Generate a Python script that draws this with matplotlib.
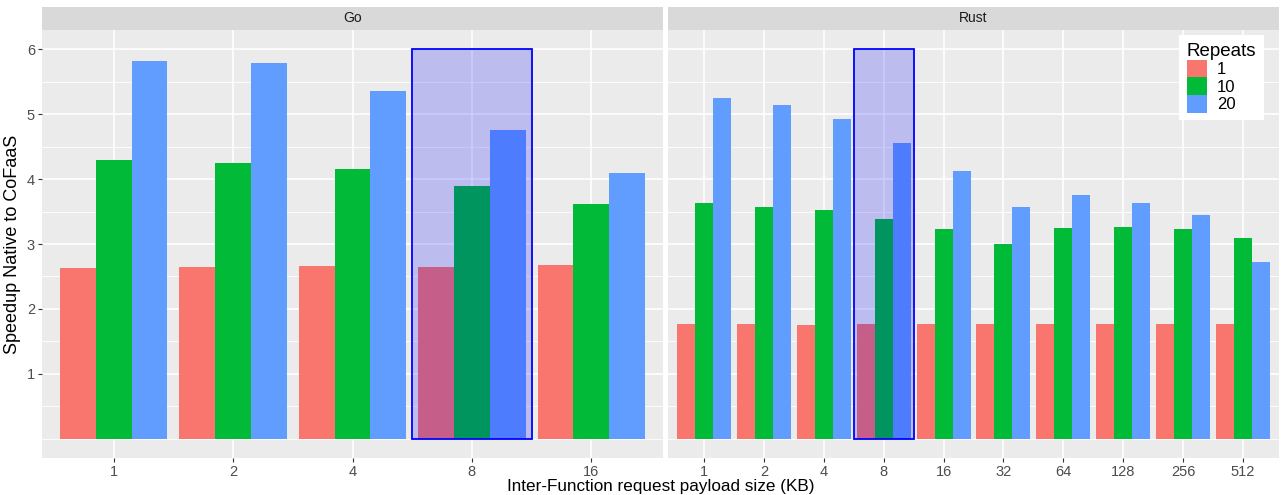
import numpy as np
import matplotlib.pyplot as plt
from matplotlib.patches import Patch, Rectangle

plt.rcParams['font.family'] = ['Liberation Sans', 'DejaVu Sans']

go_sizes = ['1', '2', '4', '8', '16']
go_r1 = [2.63, 2.64, 2.66, 2.64, 2.67]
go_r10 = [4.29, 4.25, 4.16, 3.90, 3.61]
go_r20 = [5.82, 5.79, 5.36, 4.76, 4.10]

rust_sizes = ['1', '2', '4', '8', '16', '32', '64', '128', '256', '512']
rust_r1 = [1.76, 1.77, 1.75, 1.77, 1.77, 1.77, 1.76, 1.76, 1.76, 1.77]
rust_r10 = [3.63, 3.57, 3.52, 3.38, 3.23, 3.00, 3.25, 3.26, 3.23, 3.09]
rust_r20 = [5.25, 5.14, 4.92, 4.56, 4.12, 3.57, 3.76, 3.63, 3.45, 2.72]

repeats = ['1', '10', '20']
colors = ['#F8766D', '#00BA38', '#619CFF']
highlight = '8'

W, H = 1284, 495
fig = plt.figure(figsize=(W / 100, H / 100), dpi=100)
fig.patch.set_facecolor('white')


def px_axes(x0, y0, x1, y1):
    return fig.add_axes([x0 / W, 1 - y1 / H, (x1 - x0) / W, (y1 - y0) / H])


def draw_panel(ax, strip, sizes, series, name):
    n = len(sizes)
    pos = np.arange(1, n + 1)
    ax.set_facecolor('#EBEBEB')
    for y in np.arange(0, 6.01, 0.5):
        if y % 1 == 0 and y > 0:
            continue
        ax.axhline(y, color='white', lw=0.6, zorder=0)
    for y in range(1, 7):
        ax.axhline(y, color='white', lw=1.2, zorder=0)
    for x in pos:
        ax.axvline(x, color='white', lw=1.2, zorder=0)
    w = 0.3
    for k, vals in enumerate(series):
        ax.bar(pos + (k - 1) * w, vals, width=w, color=colors[k], zorder=2)
    hi = sizes.index(highlight) + 1
    ax.add_patch(Rectangle((hi - 0.5, 0), 1.0, 6, facecolor=(0, 0, 1, 0.2),
                           edgecolor='blue', lw=1.3, zorder=3))
    ax.set_xlim(0.4, n + 0.6)
    ax.set_ylim(-0.3, 6.3)
    ax.set_xticks(pos)
    ax.set_xticklabels(sizes)
    ax.set_yticks(range(1, 7))
    for s in ax.spines.values():
        s.set_visible(False)
    ax.tick_params(colors='#333333', labelcolor='#4D4D4D', labelsize=10.5,
                   length=3, width=0.8, pad=2)
    strip.set_facecolor('#D9D9D9')
    strip.set_xticks([])
    strip.set_yticks([])
    for s in strip.spines.values():
        s.set_visible(False)
    strip.text(0.5, 0.5, name, ha='center', va='center', fontsize=10,
               color='#1A1A1A', transform=strip.transAxes)


ax1 = px_axes(42, 30, 663, 458)
st1 = px_axes(42, 7, 663, 30)
ax2 = px_axes(668, 30, 1279, 458)
st2 = px_axes(668, 7, 1279, 30)

draw_panel(ax1, st1, go_sizes, [go_r1, go_r10, go_r20], 'Go')
draw_panel(ax2, st2, rust_sizes, [rust_r1, rust_r10, rust_r20], 'Rust')
ax2.set_yticklabels([])
ax2.tick_params(axis='y', length=0)

ax1.set_ylabel('Speedup Native to CoFaaS', fontsize=13, color='black', labelpad=4)
fig.text((42 + 1279) / 2 / W, 1 - 486 / H, 'Inter-Function request payload size (KB)',
         ha='center', va='center', fontsize=12.3)

handles = [Patch(facecolor=c, edgecolor='none') for c in colors]
leg = ax2.legend(handles, repeats, title='Repeats', loc='upper right',
                 bbox_to_anchor=(0.975, 0.988), borderaxespad=0, frameon=True,
                 fontsize=12, title_fontsize=13.5, handlelength=1.2,
                 handleheight=1.25, labelspacing=0.0, handletextpad=0.6,
                 borderpad=0.45, fancybox=False, alignment='left')
leg.get_frame().set_facecolor('white')
leg.get_frame().set_edgecolor('none')
leg.get_frame().set_alpha(1)

fig.savefig('out.png', dpi=100)
